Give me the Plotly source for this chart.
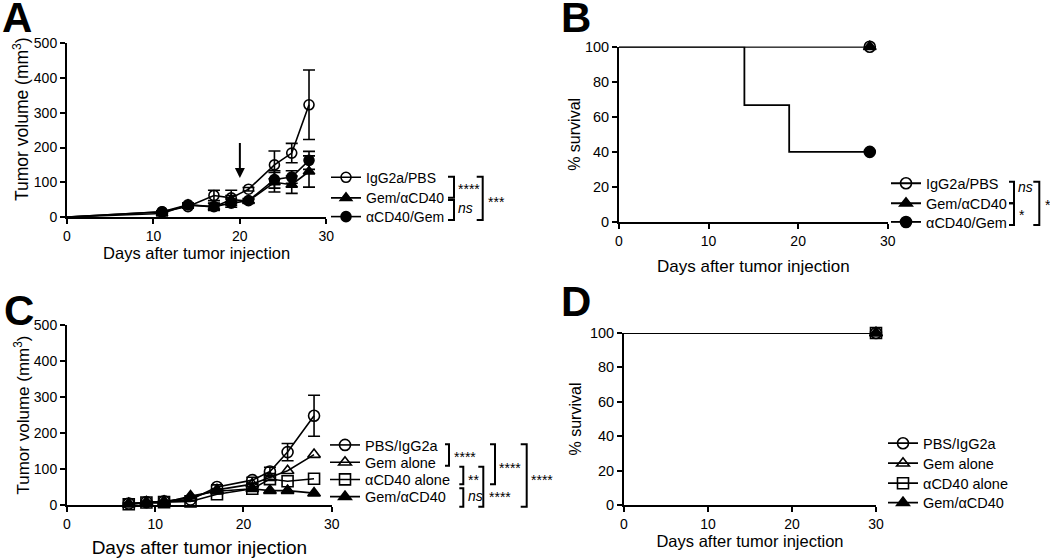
import plotly.graph_objects as go

W, H = 1050, 558
FONT = "Liberation Sans, Arial, sans-serif"

# ---------------- data ----------------
# Panel A: tumor volume (mm3)
days_a = [0, 11, 14, 17, 19, 21, 24, 26, 28]
vol_a_igg = [0, 15, 30, 62, 55, 80, 150, 184, 323]
err_a_igg = [0, 3, 5, 15, 22, 5, 40, 28, 100]
vol_a_gemcd40 = [0, 10, 35, 29, 50, 46, 100, 93, 131]
err_a_gemcd40 = [0, 2, 5, 10, 12, 5, 28, 25, 45]
vol_a_cd40gem = [0, 15, 35, 30, 40, 47, 108, 115, 163]
err_a_cd40gem = [0, 3, 5, 10, 12, 6, 25, 18, 26]
names_a = ["IgG2a/PBS", "Gem/αCD40", "αCD40/Gem"]
arrow_day_a = 20
arrow_from_a, arrow_to_a = 242, 112

# Panel B: % survival
days_b_igg = [0, 28]
surv_b_igg = [100, 100]
days_b_gemcd40 = [0, 28]
surv_b_gemcd40 = [100, 100]
days_b_cd40gem = [0, 14, 19, 28]
surv_b_cd40gem = [100, 66.7, 40, 40]

# Panel C: tumor volume (mm3)
days_c = [7, 9, 11, 14, 17, 21, 23, 25, 28]
vol_c_pbs = [4, 8, 10, 15, 50, 69, 93, 147, 248]
err_c_pbs = [2, 3, 3, 4, 6, 8, 12, 24, 57]
vol_c_gem = [4, 8, 10, 20, 42, 58, 76, 95, 140]
vol_c_cd40 = [2, 7, 8, 10, 30, 45, 72, 66, 73]
vol_c_gemcd40 = [2, 6, 6, 25, 38, 45, 40, 40, 33]
names_c = ["PBS/IgG2a", "Gem alone", "αCD40 alone", "Gem/αCD40"]

# Panel D: % survival
days_d = [0, 30]
surv_d_pbs = [100, 100]
surv_d_gem = [100, 100]
surv_d_cd40 = [100, 100]
surv_d_gemcd40 = [100, 100]

x_ticks = [0, 10, 20, 30]
vol_ticks = [0, 100, 200, 300, 400, 500]
surv_ticks = [0, 20, 40, 60, 80, 100]


def px(x):
    return x / W


def py(y):
    return 1 - y / H


fig = go.Figure()
legend_layouts = {}
leg_count = [0]


def new_legend(text_left, row_y, size):
    leg_count[0] += 1
    key = "legend" if leg_count[0] == 1 else f"legend{leg_count[0]}"
    legend_layouts[key] = dict(
        x=px(text_left - 40), y=py(row_y), xanchor="left", yanchor="middle",
        bgcolor="rgba(0,0,0,0)", borderwidth=0, tracegroupgap=0,
        font=dict(family=FONT, size=size, color="black"),
    )
    return key


SYM = {
    "oc": "circle-open",
    "ft": "triangle-up",
    "fc": "circle",
    "ot": "triangle-up-open",
    "os": "square-open",
}


def marker(kind, size):
    return dict(symbol=SYM[kind], size=size, color="black",
                line=dict(color="black", width=1.6))


# ---- Panel A ----
series_a = [
    (vol_a_igg, err_a_igg, "oc", 177.7),
    (vol_a_gemcd40, err_a_gemcd40, "ft", 198.3),
    (vol_a_cd40gem, err_a_cd40gem, "fc", 217.0),
]
for (vals, errs, kind, row), name in zip(series_a, names_a):
    fig.add_trace(go.Scatter(x=days_a[:2], y=vals[:2], mode="lines",
                             line=dict(color="black", width=1.6),
                             showlegend=False, xaxis="x", yaxis="y",
                             cliponaxis=False, hoverinfo="skip"))
    fig.add_trace(go.Scatter(
        x=days_a[1:], y=vals[1:], name=name, mode="lines+markers",
        error_y=dict(type="data", array=errs[1:], color="black",
                     thickness=1.6, width=6),
        line=dict(color="black", width=1.6), marker=marker(kind, 10),
        xaxis="x", yaxis="y", cliponaxis=False,
        legend=new_legend(366, row, 14)))

# ---- Panel B ----
series_b = [
    (days_b_igg, surv_b_igg, "oc", 183.3),
    (days_b_gemcd40, surv_b_gemcd40, "ft", 203.3),
    (days_b_cd40gem, surv_b_cd40gem, "fc", 222.0),
]
for (dd, ss, kind, row), name in zip(series_b, names_a):
    fig.add_trace(go.Scatter(x=dd, y=ss, mode="lines", line_shape="hv",
                             line=dict(color="black", width=1.8),
                             showlegend=False, xaxis="x2", yaxis="y2",
                             cliponaxis=False, hoverinfo="skip"))
for (dd, ss, kind, row), name in zip(series_b, names_a):
    fig.add_trace(go.Scatter(x=dd[-1:], y=ss[-1:], name=name,
                             mode="lines+markers",
                             line=dict(color="black", width=1.8),
                             marker=marker(kind, 11), xaxis="x2", yaxis="y2",
                             cliponaxis=False,
                             legend=new_legend(926, row, 14.5)))

# ---- Panel C ----
series_c = [
    (vol_c_pbs, err_c_pbs, "oc", 445.0),
    (vol_c_gem, None, "ot", 462.3),
    (vol_c_cd40, None, "os", 479.5),
    (vol_c_gemcd40, None, "ft", 496.7),
]
for (vals, errs, kind, row), name in zip(series_c, names_c):
    kw = {}
    if errs is not None:
        kw["error_y"] = dict(type="data", array=errs, color="black",
                             thickness=1.6, width=6)
    fig.add_trace(go.Scatter(
        x=days_c, y=vals, name=name, mode="lines+markers",
        line=dict(color="black", width=1.6), marker=marker(kind, 11),
        xaxis="x3", yaxis="y3", cliponaxis=False,
        legend=new_legend(365, row, 14.5), **kw))

# ---- Panel D ----
series_d = [
    (surv_d_pbs, "oc", 443.3),
    (surv_d_gem, "ot", 463.3),
    (surv_d_cd40, "os", 483.3),
    (surv_d_gemcd40, "ft", 502.7),
]
for (ss, kind, row), name in zip(series_d, names_c):
    fig.add_trace(go.Scatter(x=days_d, y=ss, mode="lines", line_shape="hv",
                             line=dict(color="black", width=1.8),
                             showlegend=False, xaxis="x4", yaxis="y4",
                             cliponaxis=False, hoverinfo="skip"))
for (ss, kind, row), name in zip(series_d, names_c):
    fig.add_trace(go.Scatter(x=days_d[-1:], y=ss[-1:], name=name,
                             mode="lines+markers",
                             line=dict(color="black", width=1.8),
                             marker=marker(kind, 11), xaxis="x4", yaxis="y4",
                             cliponaxis=False,
                             legend=new_legend(923, row, 14.5)))


# ---------------- axes ----------------
def xaxis(dom, anchor, title, tsize, standoff):
    return dict(domain=dom, anchor=anchor, range=[0, 30], tickvals=x_ticks,
                showline=True, linecolor="black", linewidth=2,
                ticks="outside", ticklen=5, tickwidth=2, tickcolor="black",
                showgrid=False, zeroline=False, automargin=False,
                tickfont=dict(family=FONT, size=14, color="black"),
                title=dict(text=title, standoff=standoff,
                           font=dict(family=FONT, size=tsize, color="black")))


def yaxis(dom, anchor, rng, ticks, title, tsize, standoff, tfs):
    d = dict(domain=dom, anchor=anchor, range=rng, tickvals=ticks,
             showline=True, linecolor="black", linewidth=2,
             ticks="outside", ticklen=5, tickwidth=2, tickcolor="black",
             showgrid=False, zeroline=False, automargin=False,
             tickfont=dict(family=FONT, size=tfs, color="black"))
    if title:
        d["title"] = dict(text=title, standoff=standoff,
                          font=dict(family=FONT, size=tsize, color="black"))
    return d


xt = "Days after tumor injection"
layout = dict(
    width=W, height=H, margin=dict(l=0, r=0, t=0, b=0),
    paper_bgcolor="white", plot_bgcolor="white",
    xaxis=xaxis([px(67), px(326.3)], "y", xt, 16.5, 2),
    yaxis=yaxis([py(217), py(43.3)], "x", [0, 500], vol_ticks, None, 17, 0, 14),
    xaxis2=xaxis([px(619), px(887.7)], "y2", xt, 17, 12),
    yaxis2=yaxis([py(222), py(46.7)], "x2", [0, 100], surv_ticks,
                 "% survival", 16, 0, 14.5),
    xaxis3=xaxis([px(67), px(331.7)], "y3", xt, 19, 22),
    yaxis3=yaxis([py(505), py(325)], "x3", [0, 500], vol_ticks,
                 "Tumor volume (mm<sup>3</sup>)", 17, 0, 14),
    xaxis4=xaxis([px(624), px(876)], "y4", xt, 16.5, 2),
    yaxis4=yaxis([py(505), py(333)], "x4", [0, 100], surv_ticks,
                 "% survival", 16, 4, 14.5),
    showlegend=True,
)
layout.update(legend_layouts)
fig.update_layout(**layout)

annotations = []
shapes = []

# Panel A y title (sits a little above the axis centre in the reference)
annotations.append(dict(text="Tumor volume (mm<sup>3</sup>)", textangle=-90,
                        x=px(21), y=py(119), xref="paper", yref="paper",
                        showarrow=False, xanchor="center", yanchor="middle",
                        font=dict(family=FONT, size=17.5, color="black")))

# Arrow in panel A
annotations.append(dict(x=arrow_day_a, y=arrow_to_a, ax=arrow_day_a,
                        ay=arrow_from_a, xref="x", yref="y", axref="x",
                        ayref="y", showarrow=True, arrowhead=2, arrowsize=1,
                        arrowwidth=2, arrowcolor="black", text=" ", standoff=0))

# panel letters
for letter, lx, ly in [("A", 0, 17), ("B", 559, 18), ("C", 2, 310), ("D", 559, 301)]:
    annotations.append(dict(text=f"<b>{letter}</b>", x=px(lx), y=py(ly),
                            xref="paper", yref="paper", showarrow=False,
                            xanchor="left", yanchor="middle",
                            font=dict(family=FONT, size=42, color="black")))

# significance brackets: (x vertical, y top, y bottom, tick length, label, label x, label y)
brackets = [
    # Panel A
    (454, 176.7, 197.7, 6, "****", 455.5, 189),
    (454, 200.0, 220.0, 6, "<i>ns</i>", 456, 208),
    (482.7, 176.7, 220.0, 6, "***", 485.5, 201.5),
    # Panel B
    (1014, 181.7, 203.3, 5, "<i>ns</i>", 1016, 187.5),
    (1014, 203.3, 225.0, 5, "*", 1016.5, 215),
    (1039.3, 181.7, 225.0, 6, "*", 1043, 205),
    # Panel C
    (449, 444.3, 465.7, 4, "****", 451.5, 457),
    (463.3, 466.7, 484.3, 4, "**", 465.5, 480),
    (463.3, 488.3, 506.7, 4, "<i>ns</i>", 466, 496),
    (483.3, 466.7, 506.7, 5, "****", 487, 497.5),
    (495, 444.3, 484.3, 5, "****", 497, 467.5),
    (526.7, 444.3, 506.7, 6, "****", 529, 480),
]
for xv, yt, yb, tl, lab, lx, ly in brackets:
    x0 = px(xv - tl)
    shapes.append(dict(type="path", xref="paper", yref="paper",
                       path=f"M {x0},{py(yt)} L {px(xv)},{py(yt)} L {px(xv)},{py(yb)} L {x0},{py(yb)}",
                       line=dict(color="black", width=2)))
    annotations.append(dict(text=lab, x=px(lx), y=py(ly), xref="paper",
                            yref="paper", showarrow=False, xanchor="left",
                            yanchor="middle",
                            font=dict(family=FONT, size=14, color="black")))

fig.update_layout(annotations=annotations, shapes=shapes)
fig.write_html(
    "out.html",
    config={"displayModeBar": False},
    post_script="document.body.style.margin='0';document.body.style.padding='0';document.body.style.overflow='hidden';",
)
